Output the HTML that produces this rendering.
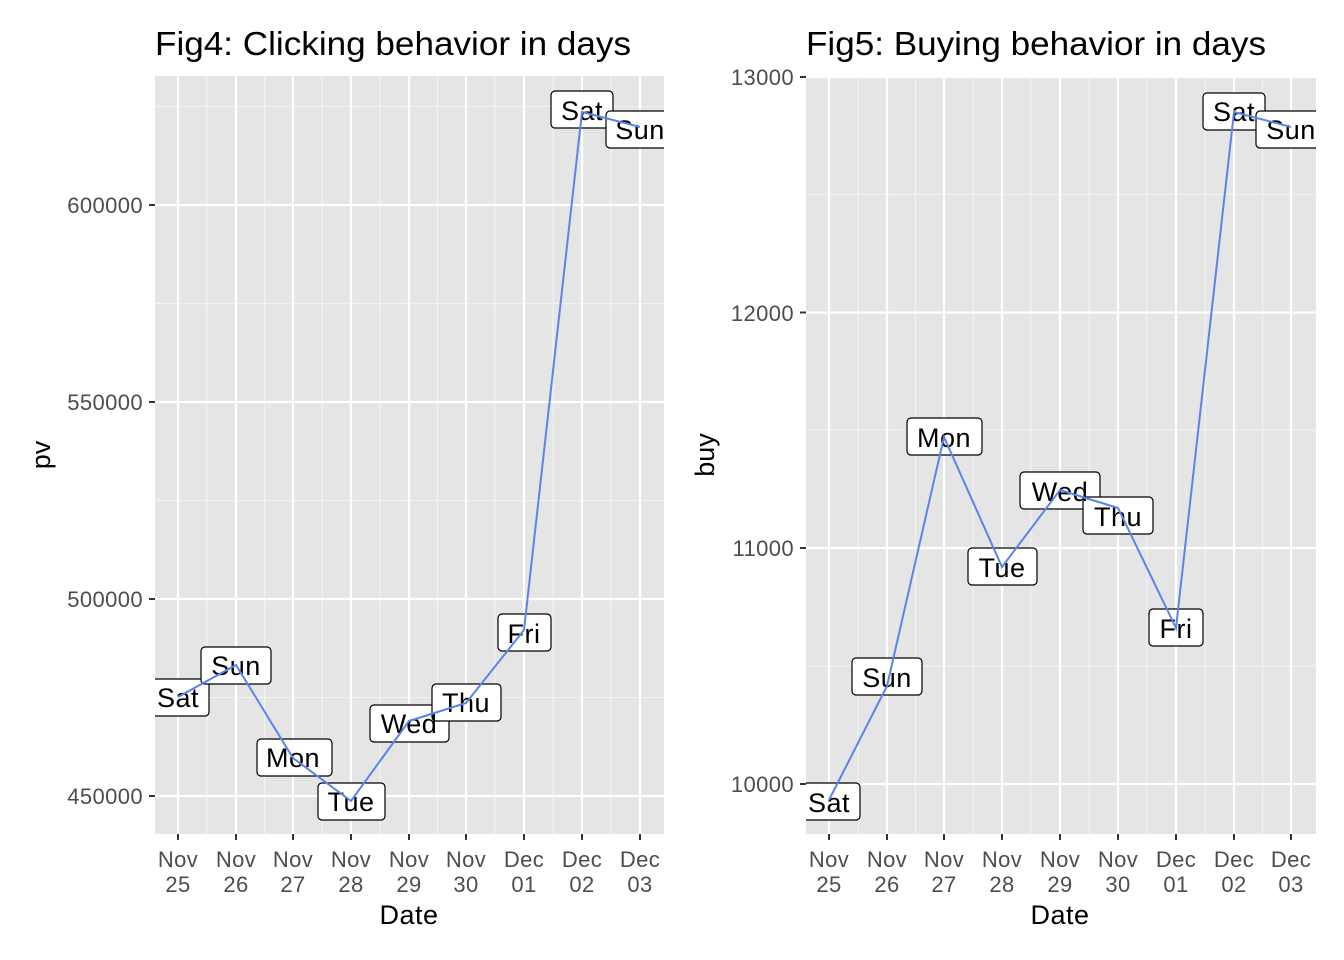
<!DOCTYPE html>
<html><head><meta charset="utf-8"><style>body{margin:0;background:#fff}svg{display:block}</style></head><body>
<svg width="1344" height="960" xmlns="http://www.w3.org/2000/svg" font-family="Liberation Sans, sans-serif">
<defs>
<clipPath id="c1"><rect x="155" y="76" width="509" height="758"/></clipPath>
<clipPath id="c2"><rect x="806" y="76" width="510" height="758"/></clipPath>
</defs>
<!-- Left panel -->
<rect x="155" y="76" width="509" height="758" fill="#e5e5e5"/>
<g stroke="#f2f2f2" stroke-width="1.2">
<line x1="155" x2="664" y1="106.5" y2="106.5"/><line x1="155" x2="664" y1="303.5" y2="303.5"/><line x1="155" x2="664" y1="500.5" y2="500.5"/><line x1="155" x2="664" y1="697.5" y2="697.5"/>
<line y1="76" y2="834" x1="207" x2="207"/><line y1="76" y2="834" x1="264.5" x2="264.5"/><line y1="76" y2="834" x1="322" x2="322"/><line y1="76" y2="834" x1="380" x2="380"/><line y1="76" y2="834" x1="437.5" x2="437.5"/><line y1="76" y2="834" x1="495" x2="495"/><line y1="76" y2="834" x1="553" x2="553"/><line y1="76" y2="834" x1="611" x2="611"/>
</g>
<g stroke="#fff" stroke-width="2.2">
<line x1="155" x2="664" y1="205" y2="205"/><line x1="155" x2="664" y1="402" y2="402"/><line x1="155" x2="664" y1="599" y2="599"/><line x1="155" x2="664" y1="796" y2="796"/>
<line y1="76" y2="834" x1="178" x2="178"/><line y1="76" y2="834" x1="236" x2="236"/><line y1="76" y2="834" x1="293" x2="293"/><line y1="76" y2="834" x1="351" x2="351"/><line y1="76" y2="834" x1="409" x2="409"/><line y1="76" y2="834" x1="466" x2="466"/><line y1="76" y2="834" x1="524" x2="524"/><line y1="76" y2="834" x1="582" x2="582"/><line y1="76" y2="834" x1="640" x2="640"/>
</g>
<g clip-path="url(#c1)" font-size="27" letter-spacing="0.5" text-anchor="middle">
<g fill="#fff" stroke="#000" stroke-width="1.2">
<rect x="146" y="679" width="63" height="37" rx="4"/><rect x="201" y="647" width="70" height="37" rx="4"/><rect x="257" y="739" width="75" height="37" rx="4"/><rect x="318" y="783" width="67" height="37" rx="4"/><rect x="370" y="705" width="79" height="37" rx="4"/><rect x="432" y="684" width="69" height="37" rx="4"/><rect x="498" y="614" width="53" height="37" rx="4"/><rect x="551" y="91" width="62" height="37" rx="4"/><rect x="606" y="111" width="70" height="37" rx="4"/>
</g>
<text x="178" y="707">Sat</text><text x="236" y="675">Sun</text><text x="293" y="767">Mon</text><text x="351" y="811">Tue</text><text x="409" y="733">Wed</text><text x="466" y="712">Thu</text><text x="524" y="643">Fri</text><text x="582" y="120">Sat</text><text x="640" y="139">Sun</text>
<polyline fill="none" stroke="#5b84ea" stroke-width="2" points="178,697 236,665 293,758 351,801 409,721 466,703 524,630 582,112 640,127"/>
</g>
<g stroke="#333" stroke-width="2"><line x1="149" x2="155" y1="205" y2="205"/><line x1="149" x2="155" y1="402" y2="402"/><line x1="149" x2="155" y1="599" y2="599"/><line x1="149" x2="155" y1="796" y2="796"/>
<line x1="178" x2="178" y1="834" y2="840"/><line x1="236" x2="236" y1="834" y2="840"/><line x1="293" x2="293" y1="834" y2="840"/><line x1="351" x2="351" y1="834" y2="840"/><line x1="409" x2="409" y1="834" y2="840"/><line x1="466" x2="466" y1="834" y2="840"/><line x1="524" x2="524" y1="834" y2="840"/><line x1="582" x2="582" y1="834" y2="840"/><line x1="640" x2="640" y1="834" y2="840"/></g>
<g fill="#4d4d4d" font-size="22" letter-spacing="0.4" text-anchor="end"><text x="143" y="213">600000</text><text x="143" y="410">550000</text><text x="143" y="607">500000</text><text x="143" y="804">450000</text></g>
<g fill="#4d4d4d" font-size="22" letter-spacing="0.4" text-anchor="middle">
<text x="178" y="867">Nov</text><text x="178" y="892">25</text><text x="236" y="867">Nov</text><text x="236" y="892">26</text><text x="293" y="867">Nov</text><text x="293" y="892">27</text><text x="351" y="867">Nov</text><text x="351" y="892">28</text><text x="409" y="867">Nov</text><text x="409" y="892">29</text><text x="466" y="867">Nov</text><text x="466" y="892">30</text><text x="524" y="867">Dec</text><text x="524" y="892">01</text><text x="582" y="867">Dec</text><text x="582" y="892">02</text><text x="640" y="867">Dec</text><text x="640" y="892">03</text></g>
<text x="409" y="924" font-size="27" letter-spacing="0.5" text-anchor="middle">Date</text>
<text transform="translate(50,455) rotate(-90)" font-size="27" text-anchor="middle">pv</text>
<text x="155" y="55" font-size="33" textLength="476" lengthAdjust="spacingAndGlyphs">Fig4: Clicking behavior in days</text>

<!-- Right panel -->
<rect x="806" y="76" width="510" height="758" fill="#e5e5e5"/>
<g stroke="#f2f2f2" stroke-width="1.2">
<line x1="806" x2="1316" y1="194.5" y2="194.5"/><line x1="806" x2="1316" y1="430" y2="430"/><line x1="806" x2="1316" y1="666" y2="666"/>
<line y1="76" y2="834" x1="858" x2="858"/><line y1="76" y2="834" x1="915.5" x2="915.5"/><line y1="76" y2="834" x1="973" x2="973"/><line y1="76" y2="834" x1="1031" x2="1031"/><line y1="76" y2="834" x1="1089" x2="1089"/><line y1="76" y2="834" x1="1147" x2="1147"/><line y1="76" y2="834" x1="1205" x2="1205"/><line y1="76" y2="834" x1="1262.5" x2="1262.5"/>
</g>
<g stroke="#fff" stroke-width="2.2">
<line x1="806" x2="1316" y1="77" y2="77"/><line x1="806" x2="1316" y1="312.5" y2="312.5"/><line x1="806" x2="1316" y1="548" y2="548"/><line x1="806" x2="1316" y1="784" y2="784"/>
<line y1="76" y2="834" x1="829" x2="829"/><line y1="76" y2="834" x1="887" x2="887"/><line y1="76" y2="834" x1="944" x2="944"/><line y1="76" y2="834" x1="1002" x2="1002"/><line y1="76" y2="834" x1="1060" x2="1060"/><line y1="76" y2="834" x1="1118" x2="1118"/><line y1="76" y2="834" x1="1176" x2="1176"/><line y1="76" y2="834" x1="1234" x2="1234"/><line y1="76" y2="834" x1="1291" x2="1291"/>
</g>
<g clip-path="url(#c2)" font-size="27" letter-spacing="0.5" text-anchor="middle">
<g fill="#fff" stroke="#000" stroke-width="1.2">
<rect x="798" y="783" width="62" height="37" rx="4"/><rect x="852" y="658" width="70" height="37" rx="4"/><rect x="907" y="418" width="75" height="37" rx="4"/><rect x="968" y="548" width="69" height="37" rx="4"/><rect x="1020" y="472" width="80" height="37" rx="4"/><rect x="1083" y="497" width="70" height="37" rx="4"/><rect x="1149" y="609" width="54" height="37" rx="4"/><rect x="1203" y="93" width="62" height="37" rx="4"/><rect x="1256" y="111" width="70" height="37" rx="4"/>
</g>
<text x="829" y="812">Sat</text><text x="887" y="687">Sun</text><text x="944" y="447">Mon</text><text x="1002" y="577">Tue</text><text x="1060" y="501">Wed</text><text x="1118" y="526">Thu</text><text x="1176" y="638">Fri</text><text x="1234" y="121">Sat</text><text x="1291" y="139">Sun</text>
<polyline fill="none" stroke="#5b84ea" stroke-width="2" points="829,800 887,686 944,437 1002,567 1060,490 1118,508 1176,628 1234,112 1291,127"/>
</g>
<g stroke="#333" stroke-width="2"><line x1="800" x2="806" y1="77" y2="77"/><line x1="800" x2="806" y1="312.5" y2="312.5"/><line x1="800" x2="806" y1="548" y2="548"/><line x1="800" x2="806" y1="784" y2="784"/>
<line x1="829" x2="829" y1="834" y2="840"/><line x1="887" x2="887" y1="834" y2="840"/><line x1="944" x2="944" y1="834" y2="840"/><line x1="1002" x2="1002" y1="834" y2="840"/><line x1="1060" x2="1060" y1="834" y2="840"/><line x1="1118" x2="1118" y1="834" y2="840"/><line x1="1176" x2="1176" y1="834" y2="840"/><line x1="1234" x2="1234" y1="834" y2="840"/><line x1="1291" x2="1291" y1="834" y2="840"/></g>
<g fill="#4d4d4d" font-size="22" letter-spacing="0.4" text-anchor="end"><text x="794" y="85">13000</text><text x="794" y="321">12000</text><text x="794" y="556">11000</text><text x="794" y="792">10000</text></g>
<g fill="#4d4d4d" font-size="22" letter-spacing="0.4" text-anchor="middle">
<text x="829" y="867">Nov</text><text x="829" y="892">25</text><text x="887" y="867">Nov</text><text x="887" y="892">26</text><text x="944" y="867">Nov</text><text x="944" y="892">27</text><text x="1002" y="867">Nov</text><text x="1002" y="892">28</text><text x="1060" y="867">Nov</text><text x="1060" y="892">29</text><text x="1118" y="867">Nov</text><text x="1118" y="892">30</text><text x="1176" y="867">Dec</text><text x="1176" y="892">01</text><text x="1234" y="867">Dec</text><text x="1234" y="892">02</text><text x="1291" y="867">Dec</text><text x="1291" y="892">03</text></g>
<text x="1060" y="924" font-size="27" letter-spacing="0.5" text-anchor="middle">Date</text>
<text transform="translate(714,455) rotate(-90)" font-size="27" text-anchor="middle">buy</text>
<text x="806" y="55" font-size="33" textLength="460" lengthAdjust="spacingAndGlyphs">Fig5: Buying behavior in days</text>
</svg>
</body></html>
